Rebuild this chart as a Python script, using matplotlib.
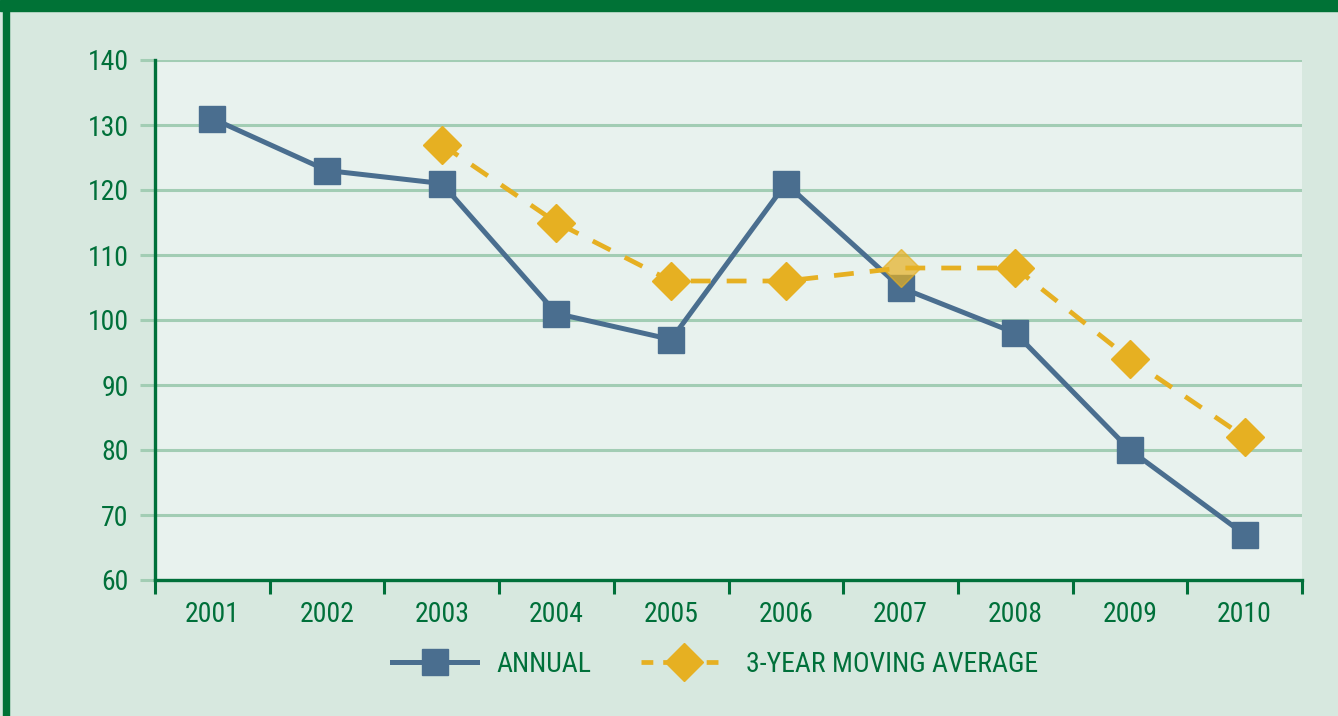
import matplotlib
matplotlib.use("Agg")
import matplotlib.pyplot as plt
from matplotlib.patches import Rectangle
from matplotlib.lines import Line2D
import numpy as np

years = ["2001", "2002", "2003", "2004", "2005", "2006", "2007", "2008", "2009", "2010"]
annual = [131, 123, 121, 101, 97, 121, 105, 98, 80, 67]
ma_years = ["2003", "2004", "2005", "2006", "2007", "2008", "2009", "2010"]
moving_avg = [127, 115, 106, 106, 108, 108, 94, 82]
yticks = [60, 70, 80, 90, 100, 110, 120, 130, 140]

DARK = "#00703a"
BG = "#d7e8df"
PLOTBG = "#e8f2ee"
GRID = "#a2cdb4"
BLUE = "#4a6e8f"
YELLOW = "#e6b022"

plt.rcParams['font.family'] = ['Roboto Condensed', 'Archivo Narrow', 'DejaVu Sans']

fig = plt.figure(figsize=(13.38, 7.16), dpi=100, facecolor=BG)
ax = fig.add_axes([155/1338, 1-580/716, (1302-155)/1338, (580-60)/716])
ax.set_facecolor(PLOTBG)

x = np.arange(1, len(years)+1)
xm = np.array([years.index(y)+1 for y in ma_years])

ax.set_xlim(0.5, len(years)+0.5)
ax.set_ylim(60, 140)
ax.set_yticks(yticks)
ax.set_yticklabels([str(v) for v in yticks])
ax.yaxis.grid(True, color=GRID, lw=2.2, zorder=0)
ax.set_axisbelow(True)

ax.plot(x, annual, color=BLUE, lw=3.6, marker='s', ms=18.5, mfc=BLUE, mec=BLUE, zorder=3, clip_on=False)
ma_idx_alpha = ma_years.index("2007")
ax.plot(xm, moving_avg, color=YELLOW, lw=3.4, ls=(0, (4.2, 3.4)), marker=None, zorder=4, clip_on=False)
solid = [i for i in range(len(ma_years)) if i != ma_idx_alpha]
ax.plot(xm[solid], np.array(moving_avg)[solid], ls='none', marker='D', ms=19.5, mfc=YELLOW, mec=YELLOW, zorder=5, clip_on=False)
ax.plot([xm[ma_idx_alpha]], [moving_avg[ma_idx_alpha]], ls='none', marker='D', ms=19.5, mfc=YELLOW, mec=YELLOW, alpha=0.7, zorder=5, clip_on=False)

for s in ["top", "right"]:
    ax.spines[s].set_visible(False)
for s in ["left", "bottom"]:
    ax.spines[s].set_color(DARK)
    ax.spines[s].set_linewidth(2.4)

# x axis ticks at boundaries, labels at centers
ax.set_xticks(np.arange(0.5, len(years)+1, 1.0))
ax.set_xticklabels([])
ax.set_xticks(x, minor=True)
ax.set_xticklabels(years, minor=True)
ax.tick_params(axis='x', which='major', direction='out', length=10, width=2.2, color=DARK)
ax.tick_params(axis='x', which='minor', length=0, pad=15, labelsize=20, labelcolor=DARK)
ax.tick_params(axis='y', direction='out', length=11, width=2.2, color=GRID, pad=8, labelsize=20, labelcolor=DARK)
ax.yaxis.get_major_ticks()[0].tick1line.set_color(DARK)

# frame decorations
fig.patches.append(Rectangle((0, 1-11/716), 1, 11/716, transform=fig.transFigure, color="#007236", zorder=10))
fig.patches.append(Rectangle((3/1338, 0), 6/1338, 1, transform=fig.transFigure, color="#007236", zorder=10))

handles = [
    Line2D([], [], color=BLUE, lw=3.6, marker='s', ms=18.5, mfc=BLUE, mec=BLUE),
    Line2D([], [], color=YELLOW, lw=3.4, ls=(0, (2.5, 2.1)), marker='D', ms=19.5, mfc=YELLOW, mec=YELLOW),
]
fig.legend(handles, ["ANNUAL", "3-YEAR MOVING AVERAGE"], loc='center', bbox_to_anchor=(715/1338, 1-664/716),
           ncol=2, frameon=False, fontsize=20, labelcolor=DARK, handlelength=3.05, handletextpad=0.7,
           columnspacing=1.8)

fig.savefig("out.png", dpi=100, facecolor=BG)
